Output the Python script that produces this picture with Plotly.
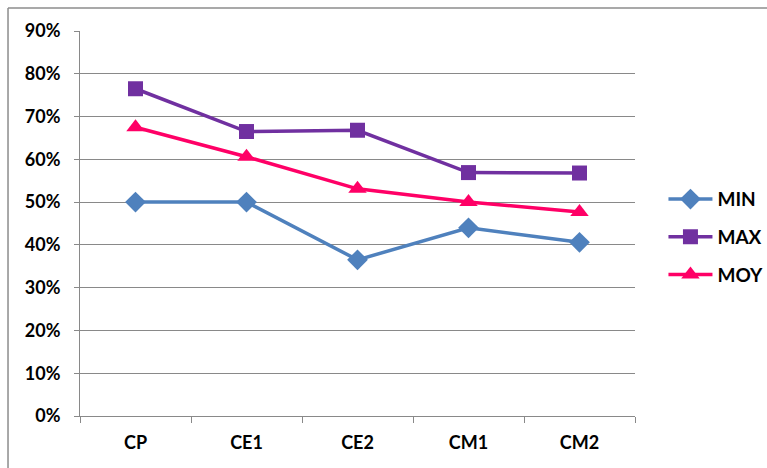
import plotly.graph_objects as go

categories = ["CP", "CE1", "CE2", "CM1", "CM2"]
min_vals = [0.50, 0.50, 0.365, 0.44, 0.406]
max_vals = [0.765, 0.665, 0.668, 0.569, 0.568]
moy_vals = [0.675, 0.606, 0.531, 0.50, 0.477]
y_ticks = [0, 0.1, 0.2, 0.3, 0.4, 0.5, 0.6, 0.7, 0.8, 0.9]

series = [
    ("MIN", min_vals, "#4F81BD", "diamond", 16),
    ("MAX", max_vals, "#7030A0", "square", 15),
    ("MOY", moy_vals, "#FF0066", "triangle-up", 16),
]

fig = go.Figure()
for name, vals, color, sym, size in series:
    fig.add_trace(go.Scatter(
        x=categories, y=vals, name=name, mode="lines+markers",
        line=dict(color=color, width=3.5),
        marker=dict(symbol=sym, size=size, color=color),
        legendgroup=name,
    ))

font_family = "Lato, Open Sans, sans-serif"
fig.update_layout(
    width=767, height=468,
    margin=dict(l=80, r=132, t=31, b=52, autoexpand=False),
    paper_bgcolor="white", plot_bgcolor="white",
    font=dict(family=font_family, size=18, color="black", weight="bold"),
    showlegend=True,
    legend=dict(xref="container", yref="container",
                x=0.865, y=0.615, xanchor="left", yanchor="top",
                traceorder="grouped", tracegroupgap=10,
                font=dict(size=19, weight="bold"),
                itemwidth=44),
    xaxis=dict(type="category", showgrid=False, ticks="outside", ticklen=6,
               tickcolor="#898989", tickson="boundaries",
               showline=True, linecolor="#898989", linewidth=1,
               tickfont=dict(size=18, weight="bold"),
               ticklabelstandoff=10, range=[-0.5, 4.5]),
    yaxis=dict(range=[0, 0.9], tickvals=y_ticks, tickformat=".0%",
               showgrid=True, gridcolor="#898989", gridwidth=1,
               zeroline=False, showline=True, linecolor="#898989",
               ticks="outside", ticklen=5, tickcolor="#898989",
               tickfont=dict(size=18, weight="bold"),
               ticklabelstandoff=10),
    shapes=[
        dict(type="line", xref="paper", yref="paper",
             x0=-0.1297, x1=1.3, y0=1.0597, y1=1.0597,
             line=dict(color="#8C8C8C", width=1.5)),
        dict(type="line", xref="paper", yref="paper",
             x0=-0.1297, x1=-0.1297, y0=1.0597, y1=-0.2,
             line=dict(color="#8C8C8C", width=1.5)),
    ],
)

fig.write_html("out.html")
